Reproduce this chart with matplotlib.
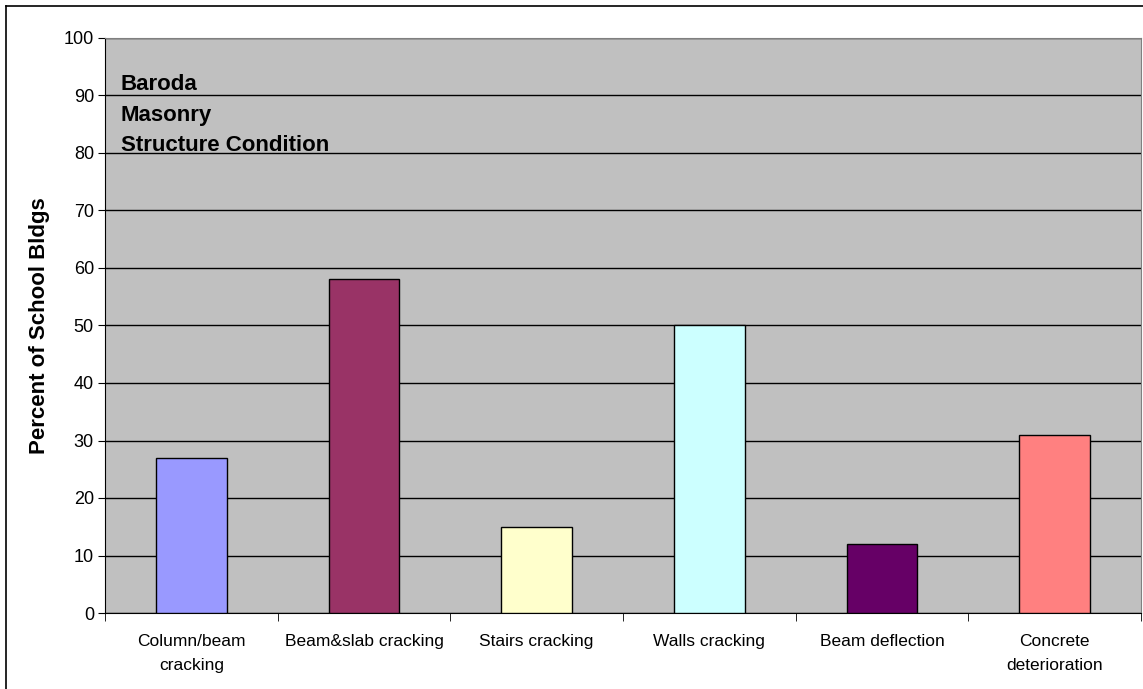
import matplotlib.pyplot as plt
from matplotlib.lines import Line2D

plt.rcParams['font.family'] = ['Liberation Sans', 'DejaVu Sans']

# Categories and values (percent of school buildings)
categorias = ['Column/beam\ncracking', 'Beam&slab cracking', 'Stairs cracking',
              'Walls cracking', 'Beam deflection', 'Concrete\ndeterioration']
valores = [27, 58, 15, 50, 12, 31]
colores = ['#9999FF', '#993366', '#FFFFCC', '#CCFFFF', '#660066', '#FF8080']

fig = plt.figure(figsize=(11.43, 6.89), dpi=100)
ax = fig.add_axes([105/1143, 1 - 613/689, (1141 - 105)/1143, (613 - 38)/689])
ax.set_facecolor('#C0C0C0')

x = range(len(valores))
ax.bar(x, valores, width=0.41, color=colores, edgecolor='black', linewidth=1, zorder=3)

ax.set_xlim(-0.5, len(valores) - 0.5)
ax.set_ylim(0, 100)
ax.set_yticks(range(0, 101, 10))
ax.yaxis.grid(True, color='black', linewidth=1, zorder=1)
ax.set_axisbelow(True)

# category labels centered, ticks at category boundaries
ax.set_xticks(list(x))
ax.set_xticklabels(categorias, fontsize=12.5, linespacing=1.75)
ax.tick_params(axis='x', length=0, pad=15)
ax.set_xticks([i - 0.5 for i in range(len(valores) + 1)], minor=True)
ax.tick_params(axis='x', which='minor', length=6, color='black', direction='out')
ax.tick_params(axis='y', length=5, color='black', labelsize=13, pad=3)

for s in ['top', 'right']:
    ax.spines[s].set_color('#808080')
for s in ['left', 'bottom']:
    ax.spines[s].set_color('black')

ax.set_ylabel('Percent of School Bldgs', fontsize=16, fontweight='bold', labelpad=10)

ax.text(0.015, 0.937, 'Baroda\nMasonry\nStructure Condition', transform=ax.transAxes,
        fontsize=16, fontweight='bold', va='top', ha='left', linespacing=1.6)

# outer chart border (top and left)
fig.add_artist(Line2D([6/1143, 1], [1 - 6/689, 1 - 6/689], color='black', linewidth=1.2))
fig.add_artist(Line2D([6/1143, 6/1143], [0, 1 - 6/689], color='black', linewidth=1.2))

fig.savefig('out.png', dpi=100)
